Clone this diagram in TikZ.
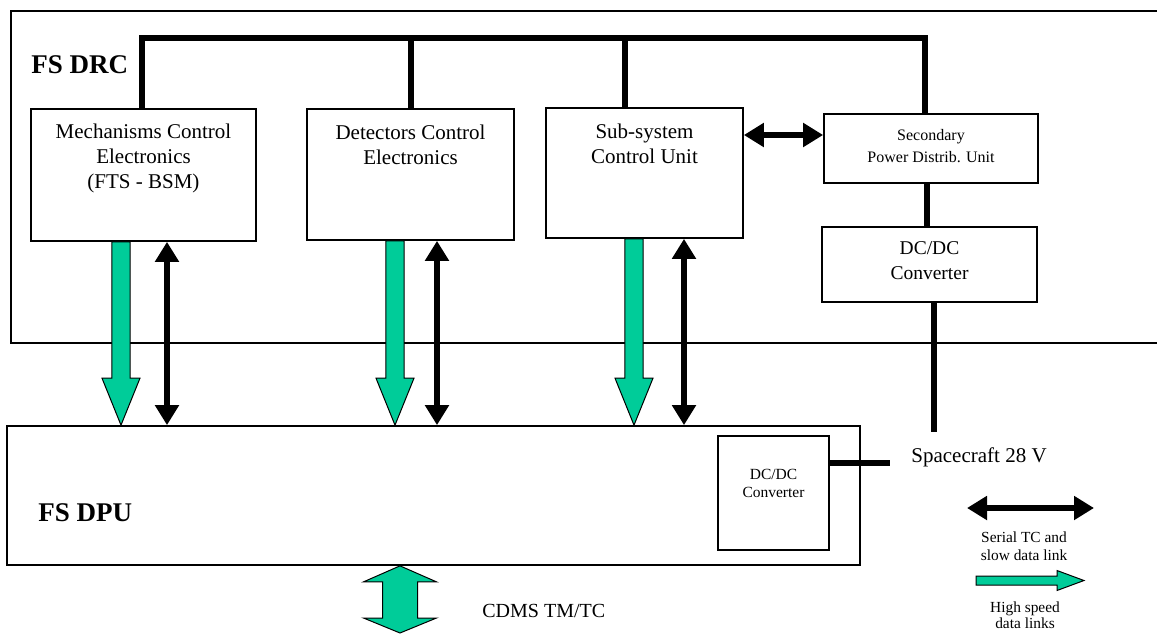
\documentclass[tikz,border=0pt]{standalone}
\usepackage{fontspec}
\setmainfont{Liberation Serif}
\usetikzlibrary{arrows.meta,calc}
\definecolor{hsgreen}{RGB}{0,204,153}

% fat green link, pointing down (#1 = tail, #2 = tip)
\newcommand{\hsdown}[2]{%
  \draw[hsarrow] let \p1=(#1), \p2=(#2) in
    (\x1-4.6pt,\y1) -- (\x1+4.6pt,\y1) -- (\x1+4.6pt,\y2+23.5pt) -- (\x1+9.5pt,\y2+23.5pt)
    -- (\x1,\y2) -- (\x1-9.5pt,\y2+23.5pt) -- (\x1-4.6pt,\y2+23.5pt) -- cycle;}
% fat green link, both ways (#1 = top tip, #2 = bottom tip)
\newcommand{\hsboth}[2]{%
  \draw[hsarrow] let \p1=(#1), \p2=(#2) in
    (\x1,\y1) -- (\x1+18.25pt,\y1-8pt) -- (\x1+8.75pt,\y1-8pt) -- (\x1+8.75pt,\y2+7.5pt)
    -- (\x1+18.25pt,\y2+7.5pt) -- (\x1,\y2) -- (\x1-18.25pt,\y2+7.5pt) -- (\x1-8.75pt,\y2+7.5pt)
    -- (\x1-8.75pt,\y1-8pt) -- (\x1-18.25pt,\y1-8pt) -- cycle;}
% fat green link, pointing right (legend)
\newcommand{\hsright}[2]{%
  \draw[hsarrow] let \p1=(#1), \p2=(#2) in
    (\x1,\y1+2.25pt) -- (\x2-13.5pt,\y1+2.25pt) -- (\x2-13.5pt,\y1+5pt) -- (\x2,\y1)
    -- (\x2-13.5pt,\y1-5pt) -- (\x2-13.5pt,\y1-2.25pt) -- (\x1,\y1-2.25pt) -- cycle;}

\begin{document}
\begin{tikzpicture}[x=0.5pt,y=-0.5pt,
  box/.style={draw,line width=0.85pt,inner sep=0pt},
  txt/.style={align=center,inner sep=0pt,font=\fontsize{10.5}{12.5}\selectfont},
  small/.style={align=center,inner sep=0pt,font=\fontsize{8}{11}\selectfont},
  legend/.style={align=center,inner sep=0pt,font=\fontsize{7.7}{9}\selectfont},
  title/.style={anchor=west,inner sep=0pt,font=\fontsize{13.5}{16}\selectfont\bfseries},
  bus/.style={line width=3pt},
  serial/.style={line width=3pt,{Triangle[length=10pt,width=11.5pt]}-{Triangle[length=10pt,width=11.5pt]}},
  hsarrow/.style={draw=black,line width=0.5pt,fill=hsgreen}]
\useasboundingbox (0,0) rectangle (1157,633);
\clip (0,0) rectangle (1157,633);

% FS DRC
\node[box,minimum width=585pt,minimum height=166pt,anchor=north west] (drc) at (10,10) {};
\node[title] (drclbl) at (31,65) {FS DRC};

\node[box,minimum width=112.5pt,minimum height=66pt] (mce) at (143.5,175) {};
\node[txt] (mcetxt) at (143.5,158) {Mechanisms Control\\Electronics\\(FTS - BSM)};
\node[box,minimum width=103.5pt,minimum height=65.5pt] (dce) at (410.5,174.5) {};
\node[txt] (dcetxt) at (410.5,145) {Detectors Control\\Electronics};
\node[box,minimum width=98.5pt,minimum height=65pt] (scu) at (644.5,173) {};
\node[txt] (scutxt) at (644.5,143.5) {Sub-system\\Control Unit};
\node[box,minimum width=107pt,minimum height=34.5pt] (spdu) at (931,148.5) {};
\node[small] (spdutxt) at (931,146) {Secondary\\Power Distrib. Unit};
\node[box,minimum width=107.5pt,minimum height=37.5pt] (dcdc) at (929.5,264.5) {};
\node[txt,font=\fontsize{9.75}{12.5}\selectfont] (dcdctxt) at (929.5,260.5) {DC/DC\\Converter};

% FS DPU
\node[box,minimum width=426.5pt,minimum height=69.5pt] (dpu) at (433.5,495.5) {};
\node[title] (dpulbl) at (38,513) {FS DPU};
\node[box,minimum width=55.5pt,minimum height=57pt] (dpudc) at (773.5,493) {};
\node[txt,font=\fontsize{7.75}{9}\selectfont] (dpudctxt) at (773.5,483) {DC/DC\\Converter};

% bus
\coordinate (busL) at (142,38);
\coordinate (busR) at (925,38);
\draw[bus] (mce.north -| busL) -- (busL) -- (busR) -- (spdu.north -| busR);
\draw[bus] (dce.north -| 411,0) -- (busL -| 411,0);
\draw[bus] (scu.north -| 625,0) -- (busL -| 625,0);

% power
\draw[bus] (spdu.south -| 927,0) -- (dcdc.north -| 927,0);
\coordinate (sc) at (934,432);
\draw[bus] (dcdc.south -| sc) -- (sc);
\coordinate (scin) at (890,463);
\draw[bus] (dpudc.east |- scin) -- (scin);
\node[txt,anchor=west] (sclbl) at (911,457) {Spacecraft 28 V};

% serial links
\draw[serial] (mce.south -| 167,0) -- (dpu.north -| 167,0);
\draw[serial] (dce.south -| 437,0) -- (dpu.north -| 437,0);
\draw[serial] (scu.south -| 684,0) -- (dpu.north -| 684,0);
\draw[serial] (scu.east |- 0,135) -- (spdu.west |- 0,135);

% high speed links
\hsdown{mce.south -| 121,0}{dpu.north -| 121,0}
\hsdown{dce.south -| 395,0}{dpu.north -| 395,0}
\hsdown{scu.south -| 634,0}{dpu.north -| 634,0}

\coordinate (cdms) at (400,633);
\hsboth{dpu.south -| cdms}{cdms}
\node[anchor=west,inner sep=0pt,font=\fontsize{10}{12}\selectfont] (cdmslbl) at (482,611) {CDMS TM/TC};

% legend
\coordinate (lgsA) at (967,508);
\coordinate (lgsB) at (1094,508);
\draw[serial] (lgsA) -- (lgsB);
\node[legend] (lgstxt) at (1024,546) {Serial TC and\\slow data link};
\coordinate (lghA) at (976,580.5);
\coordinate (lghB) at (1084,580.5);
\hsright{lghA}{lghB}
\node[legend,font=\fontsize{7.7}{8}\selectfont] (lghtxt) at (1025,615) {High speed\\data links};
\end{tikzpicture}
\end{document}
